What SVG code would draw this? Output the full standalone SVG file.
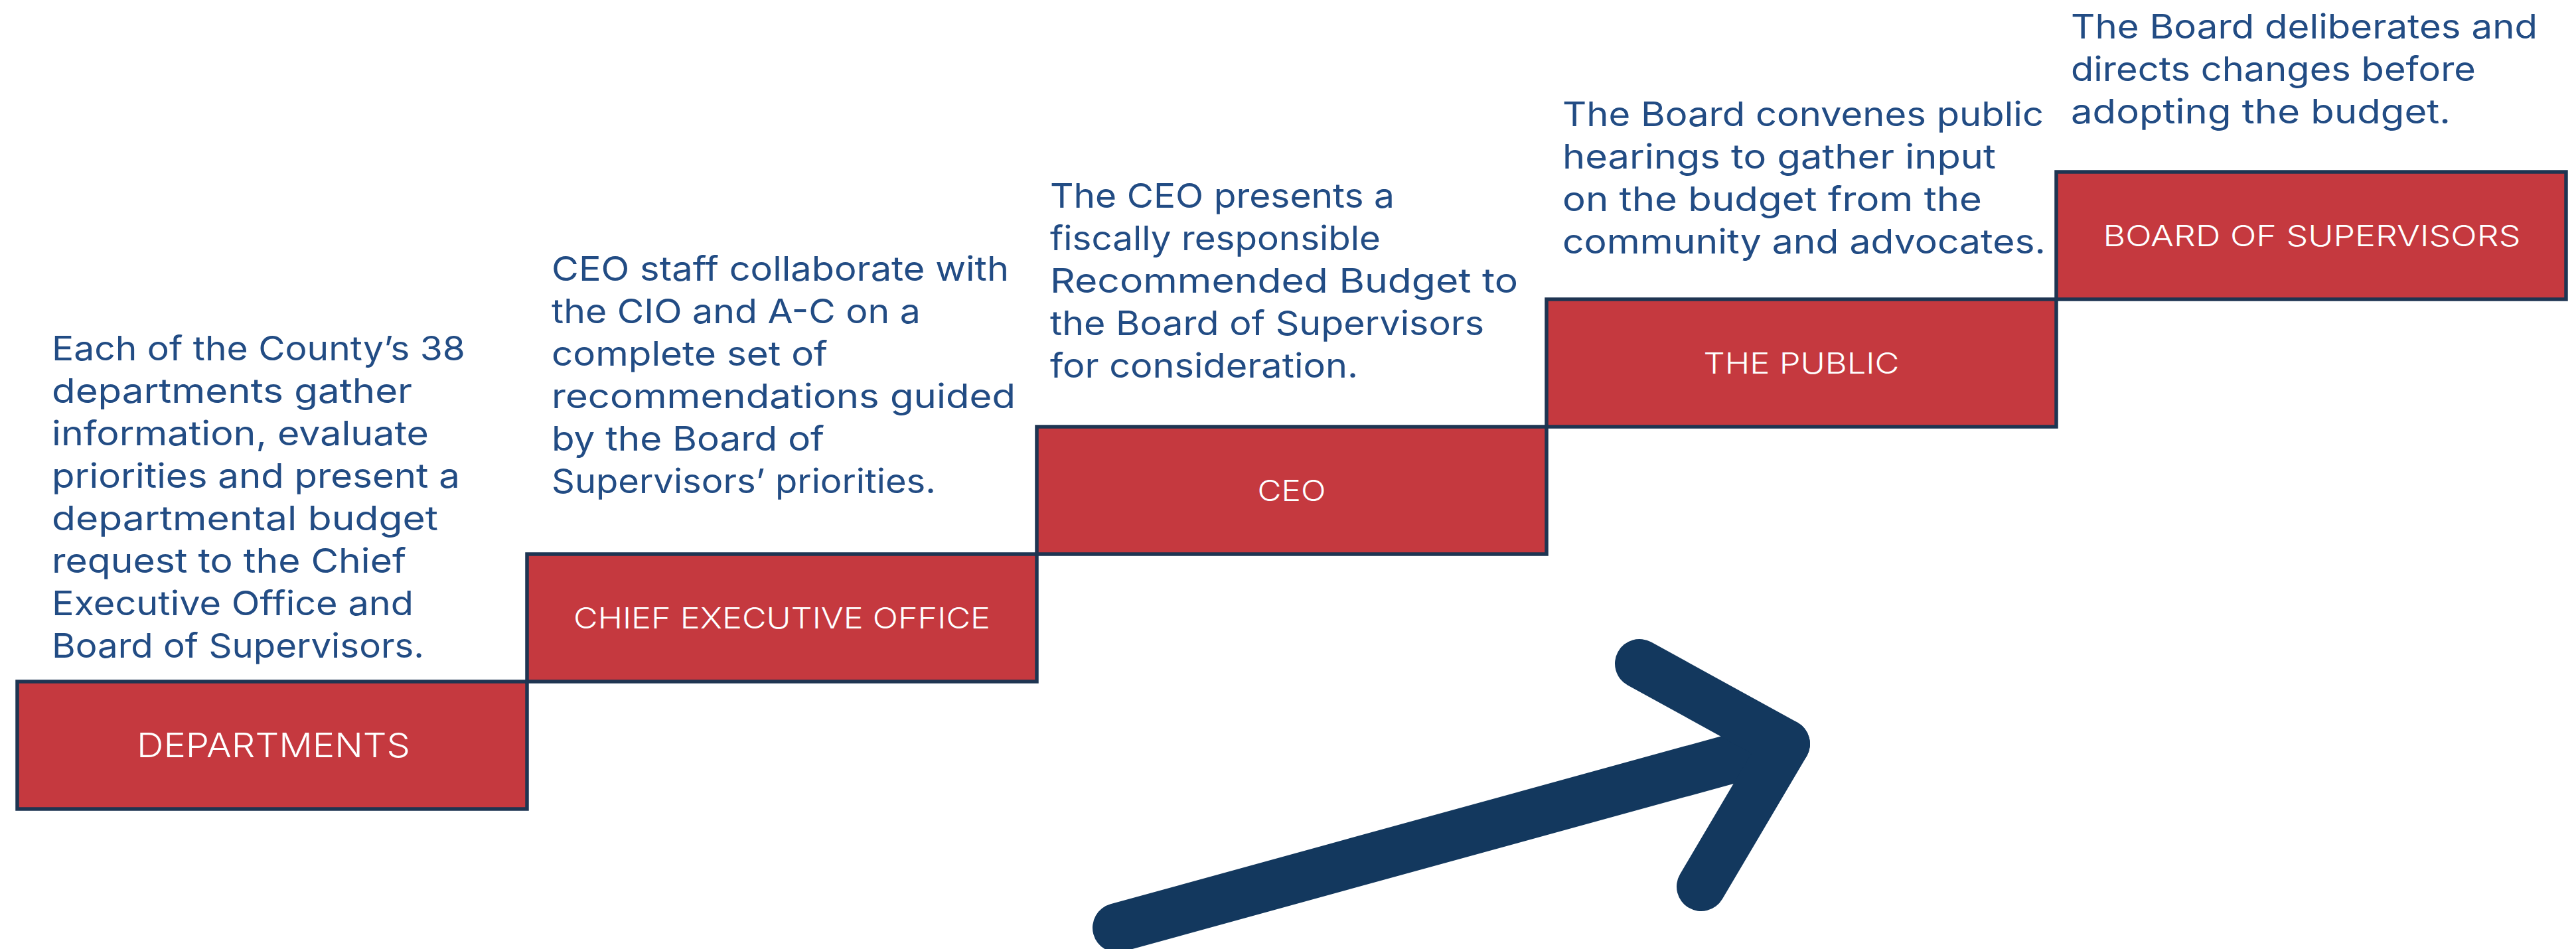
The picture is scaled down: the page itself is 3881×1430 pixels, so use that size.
<svg xmlns="http://www.w3.org/2000/svg" width="3881" height="1430" viewBox="0 0 3881 1430">
<style>
.box{fill:#C5393F;stroke:#1E3552;stroke-width:5.5;stroke-linejoin:miter}
.lbl{font-family:Inter,"Noto Sans","Liberation Sans",sans-serif;font-weight:300;fill:#FFFFFF;text-anchor:middle}
.desc{font-family:Inter,"Noto Sans","Liberation Sans",sans-serif;font-weight:400;font-size:51px;fill:#224C84}
.arrow{fill:none;stroke:#13385E;stroke-width:74;stroke-linecap:round;stroke-linejoin:round}
</style>
<rect width="3881" height="1430" fill="#FFFFFF"/>
<g id="departments">
<rect class="box" x="26" y="1027" width="768" height="192"/>
<text class="lbl" x="412" y="1141" font-size="51" textLength="412" lengthAdjust="spacingAndGlyphs">DEPARTMENTS</text>
<text class="desc" x="78" y="543" textLength="623" lengthAdjust="spacingAndGlyphs">Each of the County’s 38</text>
<text class="desc" x="78" y="607" textLength="543" lengthAdjust="spacingAndGlyphs">departments gather</text>
<text class="desc" x="78" y="671" textLength="568" lengthAdjust="spacingAndGlyphs">information, evaluate</text>
<text class="desc" x="78" y="735" textLength="615" lengthAdjust="spacingAndGlyphs">priorities and present a</text>
<text class="desc" x="78" y="799" textLength="582" lengthAdjust="spacingAndGlyphs">departmental budget</text>
<text class="desc" x="78" y="863" textLength="534" lengthAdjust="spacingAndGlyphs">request to the Chief</text>
<text class="desc" x="78" y="927" textLength="545" lengthAdjust="spacingAndGlyphs">Executive Office and</text>
<text class="desc" x="78" y="991" textLength="561" lengthAdjust="spacingAndGlyphs">Board of Supervisors.</text>
</g>
<g id="chief-executive-office">
<rect class="box" x="794" y="835" width="768" height="192"/>
<text class="lbl" x="1178" y="947" font-size="44" textLength="628" lengthAdjust="spacingAndGlyphs">CHIEF EXECUTIVE OFFICE</text>
<text class="desc" x="831" y="423" textLength="689" lengthAdjust="spacingAndGlyphs">CEO staff collaborate with</text>
<text class="desc" x="831" y="487" textLength="556" lengthAdjust="spacingAndGlyphs">the CIO and A-C on a</text>
<text class="desc" x="831" y="551" textLength="416" lengthAdjust="spacingAndGlyphs">complete set of</text>
<text class="desc" x="831" y="615" textLength="699" lengthAdjust="spacingAndGlyphs">recommendations guided</text>
<text class="desc" x="831" y="679" textLength="411" lengthAdjust="spacingAndGlyphs">by the Board of</text>
<text class="desc" x="831" y="743" textLength="579" lengthAdjust="spacingAndGlyphs">Supervisors’ priorities.</text>
</g>
<g id="ceo">
<rect class="box" x="1562" y="643" width="768" height="192"/>
<text class="lbl" x="1946" y="755" font-size="44" textLength="103" lengthAdjust="spacingAndGlyphs">CEO</text>
<text class="desc" x="1582" y="313" textLength="519" lengthAdjust="spacingAndGlyphs">The CEO presents a</text>
<text class="desc" x="1582" y="377" textLength="498" lengthAdjust="spacingAndGlyphs">fiscally responsible</text>
<text class="desc" x="1582" y="441" textLength="705" lengthAdjust="spacingAndGlyphs">Recommended Budget to</text>
<text class="desc" x="1582" y="505" textLength="654" lengthAdjust="spacingAndGlyphs">the Board of Supervisors</text>
<text class="desc" x="1582" y="569" textLength="464" lengthAdjust="spacingAndGlyphs">for consideration.</text>
</g>
<g id="the-public">
<rect class="box" x="2330" y="451" width="768" height="192"/>
<text class="lbl" x="2714" y="563" font-size="44" textLength="295" lengthAdjust="spacingAndGlyphs">THE PUBLIC</text>
<text class="desc" x="2354" y="190" textLength="725" lengthAdjust="spacingAndGlyphs">The Board convenes public</text>
<text class="desc" x="2354" y="254" textLength="653" lengthAdjust="spacingAndGlyphs">hearings to gather input</text>
<text class="desc" x="2354" y="318" textLength="632" lengthAdjust="spacingAndGlyphs">on the budget from the</text>
<text class="desc" x="2354" y="382" textLength="728" lengthAdjust="spacingAndGlyphs">community and advocates.</text>
</g>
<g id="board-of-supervisors">
<rect class="box" x="3098" y="259" width="768" height="192"/>
<text class="lbl" x="3483" y="371" font-size="44" textLength="629" lengthAdjust="spacingAndGlyphs">BOARD OF SUPERVISORS</text>
<text class="desc" x="3120" y="58" textLength="703" lengthAdjust="spacingAndGlyphs">The Board deliberates and</text>
<text class="desc" x="3120" y="122" textLength="610" lengthAdjust="spacingAndGlyphs">directs changes before</text>
<text class="desc" x="3120" y="186" textLength="572" lengthAdjust="spacingAndGlyphs">adopting the budget.</text>
</g>
<g id="connectors">
<path class="arrow" d="M1683,1398 L2690,1121"/>
<path class="arrow" d="M2470,1000 L2690,1121 L2563,1336"/>
</g>
</svg>
